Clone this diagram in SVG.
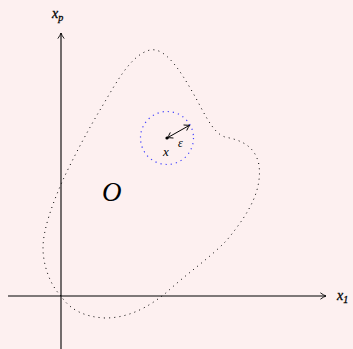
<svg xmlns="http://www.w3.org/2000/svg" width="353" height="349" viewBox="0 0 353 349">
<style>
.bg{fill:#fdf0f0}
.axis{stroke:#000;stroke-width:1.1;fill:none}
.dot{fill:none;stroke:#000;stroke-width:1;stroke-dasharray:1 4.2}
.bdot{fill:none;stroke:#4040ff;stroke-width:1.2;stroke-dasharray:1.2 4}
.t{font-family:"Liberation Serif","DejaVu Serif",serif;font-style:italic;fill:#000}
.ax{stroke:#000;stroke-width:0.3}
</style>
<defs>
<marker id="arr" viewBox="0 0 10 10" refX="9" refY="5" markerWidth="8" markerHeight="8" markerUnits="userSpaceOnUse" orient="auto-start-reverse">
<path d="M2,1 Q6,4 9,5 Q6,6 2,9" fill="none" stroke="#000" stroke-width="1.1"/>
</marker>
</defs>
<rect class="bg" width="353" height="349"/>
<g id="connectors">
<line class="axis" x1="8" y1="296" x2="326" y2="296" marker-end="url(#arr)"/>
<line class="axis" x1="61" y1="349" x2="61" y2="33" marker-end="url(#arr)"/>
<line x1="167" y1="138" x2="190" y2="125" stroke="#000" stroke-width="1" marker-start="url(#arr)" marker-end="url(#arr)"/>
</g>
<g id="blob">
<path class="dot" d="M61,296 C50,285 43,265 43,248 C43,230 52,205 62,182 C72,160 88,130 100,110 C115,85 130,55 150,50 C165,47 180,70 193,93 C203,110 212,133 225,137 C240,140 255,145 259,165 C262,190 250,212 227,240 C210,258 185,275 167,292 C150,306 130,318 105,318 C85,317 70,310 61,296 Z"/>
</g>
<g id="ball">
<circle class="bdot" cx="167" cy="138" r="26.5"/>
<circle cx="167" cy="138" r="1.6" fill="#000"/>
</g>
<g id="labels">
<text class="t ax" x="52" y="18" font-size="14">x<tspan font-size="10" dy="3">p</tspan></text>
<text class="t ax" x="337" y="300" font-size="14">x<tspan font-size="10" dy="3">1</tspan></text>
<text class="t" x="163" y="156" font-size="13">x</text>
<text class="t" x="178" y="147" font-size="12">ε</text>
<text class="t" x="102" y="201" font-size="27">O</text>
</g>
</svg>
